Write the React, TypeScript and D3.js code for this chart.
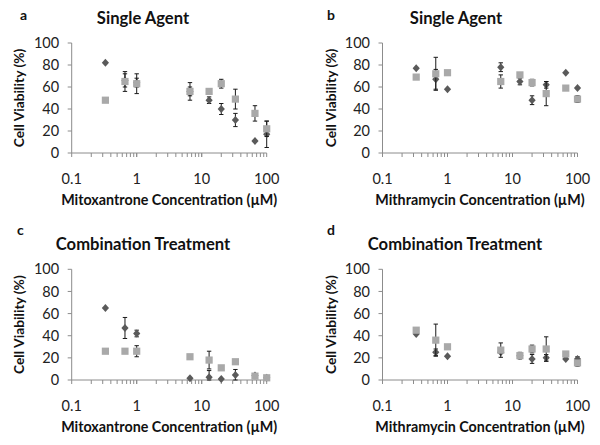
import React from "react";
import * as d3 from "d3";

const doses = [0.33, 0.66, 1, 6.6, 13, 20, 33, 66, 100];
const xTicks = [0.1, 1, 10, 100];
const xTickLabels = ["0.1", "1", "10", "100"];
const yTicks = [0, 20, 40, 60, 80, 100];

const aDiamond = [82, 66, 64, 56, 48, 40, 30, 11, 17];
const aDiamondErr = [0, 6, 4, 4, 3, 5, 6, 0, 12];
const aSquare = [48, 65, 63, 56, 56, 63, 49, 36, 22];
const aSquareErr = [0, 9, 9, 8, 0, 4, 9, 7, 7];

const bDiamond = [77, 67, 58, 78, 65, 48, 62, 73, 59];
const bDiamondErr = [0, 9, 0, 4, 3, 4, 3, 0, 0];
const bSquare = [69, 72, 73, 65, 71, 64, 54, 59, 49];
const bSquareErr = [0, 15, 2, 6, 0, 3, 11, 0, 3];

const cDiamond = [65, 47, 42, 1.5, 2.5, 1, 4.5, 4, 2];
const cDiamondErr = [0, 9.5, 3, 0, 6, 0, 5, 1, 0];
const cSquare = [26, 26, 26, 21, 18, 11, 16.5, 3.5, 2];
const cSquareErr = [0, 0, 5, 0, 8, 0, 2, 1, 0];

const dDiamond = [41.5, 25, 21.5, 25, 22, 19, 20, 19, 19];
const dDiamondErr = [0, 3, 0, 0, 0, 4, 3, 0, 2];
const dSquare = [45, 36, 30, 27, 22, 28, 28, 23.5, 15.5];
const dSquareErr = [0, 14.5, 2, 6.5, 3, 3.5, 11, 0, 3];

const FONT = "Lato, 'Liberation Sans', sans-serif";
const DIAMOND_COLOR = "#5a5a5a";
const SQUARE_COLOR = "#a9a9a9";
const AXIS_COLOR = "#8c8c8c";

type PanelProps = {
  letter: string;
  title: string;
  xTitle: string;
  x0: number;
  x1: number;
  yTop: number;
  yBottom: number;
  letterX: number;
  letterY: number;
  titleX: number;
  titleY: number;
  yTitleX: number;
  diamond: number[];
  diamondErr: number[];
  square: number[];
  squareErr: number[];
};

function Panel(p: PanelProps) {
  const x = d3.scaleLog().domain([0.1, 100]).range([p.x0, p.x1]);
  const y = d3.scaleLinear().domain([0, 100]).range([p.yBottom, p.yTop]);
  const minor: number[] = [];
  for (let e = -1; e < 2; e++) {
    for (let m = 1; m <= 10; m++) minor.push(m * Math.pow(10, e));
  }
  const cap = 2.2;
  const errBar = (vals: number[], errs: number[], key: string) =>
    doses.map((dv, i) => {
      const e = errs[i];
      if (!e) return null;
      const cx = x(dv);
      const yt = y(vals[i] + e);
      const yb = y(Math.max(0, vals[i] - e));
      return (
        <g key={key + i} stroke="#1a1a1a" strokeWidth={1}>
          <line x1={cx} x2={cx} y1={yt} y2={yb} />
          <line x1={cx - cap} x2={cx + cap} y1={yt} y2={yt} />
          <line x1={cx - cap} x2={cx + cap} y1={yb} y2={yb} />
        </g>
      );
    });
  const midX = (p.x0 + p.x1) / 2;
  const midY = (p.yTop + p.yBottom) / 2;
  return (
    <g fontFamily={FONT}>
      <text x={p.letterX} y={p.letterY} fontSize={14} fontWeight="bold" fill="#111">
        {p.letter}
      </text>
      <text x={p.titleX} y={p.titleY} fontSize={16.6} fontWeight="bold" textAnchor="middle" fill="#111">
        {p.title}
      </text>
      {/* y axis */}
      <line x1={p.x0} x2={p.x0} y1={p.yTop} y2={p.yBottom} stroke={AXIS_COLOR} />
      {yTicks.map((t) => (
        <g key={"yt" + t}>
          <line x1={p.x0 - 4} x2={p.x0} y1={y(t)} y2={y(t)} stroke={AXIS_COLOR} />
          <text x={p.x0 - 12.5} y={y(t)} dy="0.35em" fontSize={14.5} textAnchor="end" fill="#222">
            {t}
          </text>
        </g>
      ))}
      {/* x axis */}
      <line x1={p.x0} x2={p.x1} y1={p.yBottom} y2={p.yBottom} stroke={AXIS_COLOR} />
      {minor.map((t, i) => (
        <line key={"xm" + i} x1={x(t)} x2={x(t)} y1={p.yBottom} y2={p.yBottom + 4} stroke={AXIS_COLOR} />
      ))}
      {xTicks.map((t, i) => (
        <text key={"xl" + t} x={x(t)} y={p.yBottom + 31} fontSize={14.5} textAnchor="middle" fill="#222">
          {xTickLabels[i]}
        </text>
      ))}
      <text x={midX} y={p.yBottom + 52} fontSize={14.3} fontWeight="bold" textAnchor="middle" fill="#111">
        {p.xTitle}
      </text>
      <text
        transform={`translate(${p.yTitleX},${midY}) rotate(-90)`}
        fontSize={13.8}
        fontWeight="bold"
        textAnchor="middle"
        fill="#111"
      >
        Cell Viability (%)
      </text>
      {/* diamonds */}
      {errBar(p.diamond, p.diamondErr, "de")}
      {doses.map((dv, i) => {
        const cx = x(dv);
        const cy = y(p.diamond[i]);
        return (
          <path
            key={"dm" + i}
            d={`M${cx},${cy - 4}L${cx + 3.6},${cy}L${cx},${cy + 4}L${cx - 3.6},${cy}Z`}
            fill={DIAMOND_COLOR}
          />
        );
      })}
      {/* squares */}
      {errBar(p.square, p.squareErr, "se")}
      {doses.map((dv, i) => (
        <rect
          key={"sq" + i}
          x={x(dv) - 3.6}
          y={y(p.square[i]) - 3.6}
          width={7.2}
          height={7.2}
          fill={SQUARE_COLOR}
        />
      ))}
    </g>
  );
}

export default function App() {
  return (
    <svg
      width={600}
      height={445}
      style={{ position: "absolute", left: 0, top: 0, background: "#fff" }}
    >
      <rect width={600} height={445} fill="#fff" />
      <Panel
        letter="a"
        title="Single Agent"
        xTitle="Mitoxantrone Concentration (µM)"
        x0={71.7}
        x1={266.7}
        yTop={43}
        yBottom={153}
        letterX={20}
        letterY={20}
        titleX={143}
        titleY={24}
        yTitleX={24}
        diamond={aDiamond}
        diamondErr={aDiamondErr}
        square={aSquare}
        squareErr={aSquareErr}
      />
      <Panel
        letter="b"
        title="Single Agent"
        xTitle="Mithramycin Concentration (µM)"
        x0={382.5}
        x1={577.5}
        yTop={43}
        yBottom={153}
        letterX={327}
        letterY={20}
        titleX={456}
        titleY={24}
        yTitleX={336}
        diamond={bDiamond}
        diamondErr={bDiamondErr}
        square={bSquare}
        squareErr={bSquareErr}
      />
      <Panel
        letter="c"
        title="Combination Treatment"
        xTitle="Mitoxantrone Concentration (µM)"
        x0={71.7}
        x1={266.7}
        yTop={269.3}
        yBottom={380}
        letterX={17}
        letterY={235}
        titleX={143}
        titleY={250}
        yTitleX={24}
        diamond={cDiamond}
        diamondErr={cDiamondErr}
        square={cSquare}
        squareErr={cSquareErr}
      />
      <Panel
        letter="d"
        title="Combination Treatment"
        xTitle="Mithramycin Concentration (µM)"
        x0={382.5}
        x1={577.5}
        yTop={269.3}
        yBottom={380}
        letterX={327}
        letterY={235}
        titleX={455}
        titleY={250}
        yTitleX={336}
        diamond={dDiamond}
        diamondErr={dDiamondErr}
        square={dSquare}
        squareErr={dSquareErr}
      />
    </svg>
  );
}
